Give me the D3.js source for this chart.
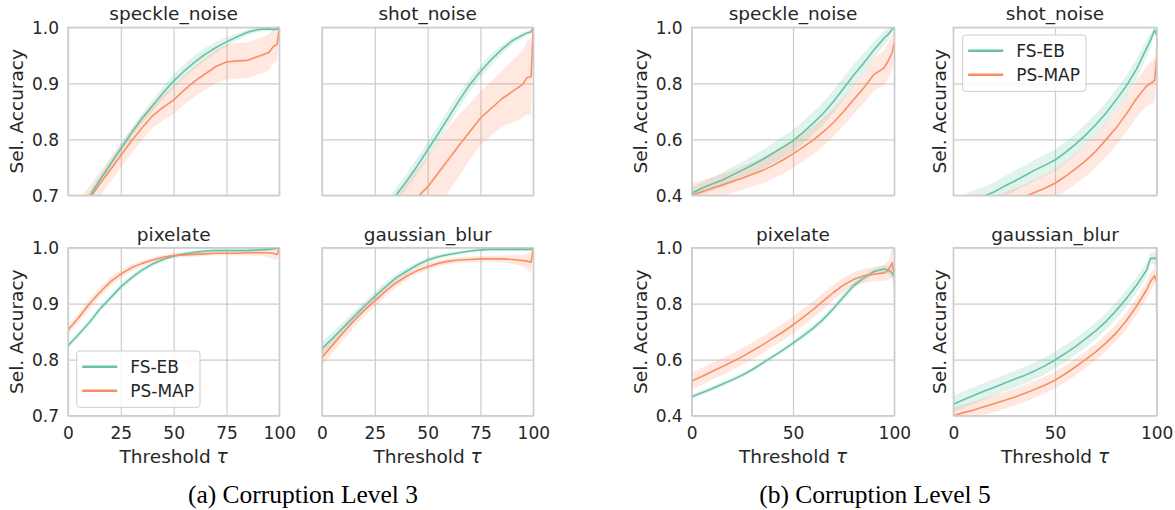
<!DOCTYPE html>
<html><head><meta charset="utf-8">
<script src="https://cdn.jsdelivr.net/npm/d3@7"></script>
<style>
html,body{margin:0;padding:0;background:#fff;}
svg{display:block;font-family:"DejaVu Sans",sans-serif;}
</style></head>
<body>
<svg id="chart" width="1175" height="510"></svg>
<script>
// ---------- data ----------
const thresholds = [0,5,10,15,20,25,30,35,40,45,50,55,60,65,70,75,80,85,90,95,97,99,100];
const seriesNames = ["FS-EB","PS-MAP"];
const seriesColors = ["#66c2a5","#fc8d62"];
const ticksL3x = [0,25,50,75,100];
const ticksL5x = [0,50,100];
const ticksL3y = [0.7,0.8,0.9,1.0];
const ticksL5y = [0.4,0.6,0.8,1.0];
const captions = ["(a) Corruption Level 3","(b) Corruption Level 5"];

// Corruption level 3
const l3SpeckleFs   = [0.655,0.675,0.697,0.727,0.755,0.783,0.811,0.837,0.860,0.883,0.904,0.922,0.938,0.952,0.964,0.974,0.983,0.991,0.996,0.997,0.996,0.997,0.998];
const l3SpeckleFsHw = [0.008,0.008,0.008,0.008,0.008,0.008,0.008,0.009,0.010,0.011,0.012,0.012,0.012,0.011,0.010,0.008,0.006,0.005,0.004,0.003,0.003,0.003,0.003];
const l3SpecklePs   = [0.652,0.672,0.693,0.720,0.745,0.771,0.797,0.820,0.842,0.857,0.870,0.888,0.904,0.917,0.930,0.938,0.940,0.941,0.948,0.955,0.965,0.970,1.000];
const l3SpecklePsHw = [0.022,0.022,0.022,0.022,0.022,0.022,0.022,0.022,0.022,0.023,0.025,0.026,0.027,0.028,0.030,0.031,0.032,0.032,0.032,0.032,0.030,0.028,0.010];

const l3ShotFs   = [0.530,0.550,0.575,0.600,0.625,0.650,0.675,0.700,0.725,0.752,0.781,0.810,0.840,0.870,0.898,0.921,0.942,0.960,0.976,0.986,0.990,0.992,1.000];
const l3ShotFsHw = [0.012,0.012,0.012,0.012,0.012,0.012,0.012,0.013,0.013,0.014,0.014,0.014,0.014,0.013,0.012,0.011,0.010,0.008,0.006,0.005,0.004,0.004,0.004];
const l3ShotPs   = [0.500,0.520,0.540,0.560,0.580,0.605,0.630,0.655,0.676,0.696,0.715,0.740,0.765,0.790,0.814,0.838,0.855,0.872,0.885,0.898,0.910,0.912,1.000];
const l3ShotPsHw = [0.040,0.040,0.040,0.040,0.040,0.040,0.040,0.042,0.045,0.050,0.055,0.058,0.058,0.055,0.050,0.048,0.048,0.050,0.055,0.060,0.065,0.070,0.020];

const l3PixFs   = [0.825,0.845,0.866,0.890,0.910,0.930,0.946,0.960,0.971,0.979,0.985,0.989,0.992,0.994,0.995,0.995,0.995,0.995,0.996,0.997,0.998,0.999,0.999];
const l3PixFsHw = [0.005,0.005,0.005,0.005,0.005,0.005,0.005,0.005,0.004,0.004,0.003,0.003,0.003,0.003,0.003,0.003,0.003,0.003,0.003,0.003,0.003,0.003,0.003];
const l3PixPs   = [0.853,0.875,0.899,0.920,0.939,0.953,0.964,0.972,0.978,0.983,0.986,0.987,0.988,0.989,0.990,0.990,0.990,0.991,0.991,0.991,0.990,0.988,1.000];
const l3PixPsHw = [0.008,0.008,0.008,0.008,0.008,0.007,0.006,0.005,0.004,0.004,0.004,0.004,0.004,0.004,0.004,0.004,0.004,0.005,0.006,0.008,0.010,0.010,0.005];

const l3BlurFs   = [0.820,0.838,0.857,0.876,0.895,0.913,0.930,0.946,0.958,0.969,0.978,0.984,0.988,0.991,0.994,0.996,0.997,0.997,0.997,0.997,0.997,0.997,1.000];
const l3BlurFsHw = [0.012,0.011,0.010,0.010,0.009,0.009,0.008,0.007,0.006,0.005,0.005,0.004,0.004,0.003,0.003,0.003,0.003,0.003,0.003,0.003,0.003,0.003,0.003];
const l3BlurPs   = [0.804,0.826,0.848,0.869,0.888,0.905,0.922,0.937,0.949,0.959,0.966,0.972,0.976,0.978,0.979,0.980,0.980,0.980,0.979,0.977,0.976,0.974,1.000];
const l3BlurPsHw = [0.015,0.014,0.013,0.012,0.011,0.010,0.009,0.008,0.007,0.006,0.006,0.005,0.005,0.005,0.005,0.005,0.005,0.006,0.008,0.010,0.014,0.020,0.005];

// Corruption level 5
const l5SpeckleFs   = [0.407,0.425,0.440,0.454,0.472,0.490,0.508,0.528,0.550,0.572,0.595,0.625,0.658,0.693,0.735,0.782,0.830,0.873,0.920,0.962,0.975,0.993,1.000];
const l5SpeckleFsHw = [0.020,0.022,0.024,0.026,0.028,0.030,0.032,0.034,0.036,0.038,0.040,0.040,0.040,0.040,0.040,0.040,0.038,0.035,0.030,0.025,0.020,0.010,0.005];
const l5SpecklePs   = [0.400,0.413,0.425,0.437,0.449,0.461,0.475,0.489,0.506,0.526,0.548,0.572,0.597,0.627,0.660,0.699,0.742,0.784,0.832,0.855,0.880,0.910,0.949];
const l5SpecklePsHw = [0.040,0.040,0.040,0.040,0.040,0.042,0.044,0.046,0.048,0.050,0.050,0.050,0.050,0.050,0.050,0.050,0.052,0.055,0.058,0.062,0.065,0.065,0.060];

const l5ShotFs   = [0.355,0.370,0.385,0.397,0.412,0.432,0.450,0.470,0.490,0.507,0.526,0.552,0.582,0.615,0.652,0.693,0.740,0.790,0.850,0.925,0.955,0.990,0.970];
const l5ShotFsHw = [0.030,0.031,0.032,0.033,0.034,0.035,0.036,0.036,0.037,0.037,0.038,0.038,0.038,0.038,0.038,0.038,0.038,0.038,0.036,0.030,0.025,0.012,0.010];
const l5ShotPs   = [0.310,0.322,0.334,0.346,0.358,0.370,0.382,0.395,0.410,0.425,0.443,0.467,0.494,0.523,0.557,0.598,0.640,0.690,0.745,0.790,0.800,0.810,0.895];
const l5ShotPsHw = [0.040,0.040,0.040,0.040,0.040,0.041,0.042,0.044,0.046,0.048,0.050,0.052,0.054,0.056,0.058,0.060,0.062,0.064,0.066,0.070,0.075,0.080,0.060];

const l5PixFs   = [0.468,0.482,0.496,0.512,0.528,0.545,0.565,0.588,0.611,0.634,0.659,0.685,0.713,0.745,0.783,0.825,0.865,0.892,0.915,0.924,0.920,0.910,0.895];
const l5PixFsHw = [0.008,0.008,0.008,0.008,0.008,0.008,0.008,0.008,0.008,0.008,0.009,0.010,0.010,0.011,0.012,0.012,0.012,0.012,0.012,0.014,0.016,0.020,0.030];
const l5PixPs   = [0.524,0.540,0.558,0.575,0.593,0.611,0.632,0.653,0.676,0.699,0.724,0.751,0.780,0.810,0.840,0.867,0.887,0.900,0.905,0.910,0.920,0.946,0.900];
const l5PixPsHw = [0.030,0.030,0.030,0.030,0.030,0.030,0.030,0.030,0.030,0.030,0.030,0.030,0.030,0.029,0.028,0.026,0.025,0.025,0.025,0.028,0.035,0.050,0.100];

const l5BlurFs   = [0.441,0.457,0.472,0.487,0.501,0.516,0.530,0.544,0.560,0.578,0.599,0.622,0.647,0.674,0.703,0.736,0.775,0.818,0.865,0.920,0.962,0.962,0.962];
const l5BlurFsHw = [0.030,0.030,0.030,0.030,0.030,0.030,0.030,0.030,0.030,0.030,0.030,0.030,0.030,0.030,0.030,0.030,0.030,0.030,0.028,0.025,0.020,0.020,0.030];
const l5BlurPs   = [0.400,0.411,0.420,0.432,0.443,0.454,0.466,0.479,0.494,0.509,0.527,0.549,0.574,0.600,0.628,0.659,0.695,0.738,0.790,0.849,0.880,0.900,0.877];
const l5BlurPsHw = [0.030,0.030,0.030,0.030,0.030,0.030,0.030,0.030,0.030,0.030,0.030,0.030,0.030,0.030,0.030,0.030,0.030,0.030,0.030,0.030,0.030,0.030,0.250];

// ---------- layout ----------
const svg = d3.select("#chart");
const TXT = "#262626", GRID = "#cccccc";
const rowsY = [[27.3,195.3],[247.7,415.7]];

const panels = [
  {title:"speckle_noise", x0:68,    x1:279.3,  row:0, xt:ticksL3x, yt:ticksL3y, ydom:[0.7,1.0], yTickLabels:true,  ylabel:true,  xTickLabels:false, fs:l3SpeckleFs, fsHw:l3SpeckleFsHw, ps:l3SpecklePs, psHw:l3SpecklePsHw},
  {title:"shot_noise",    x0:322,   x1:533.3,  row:0, xt:ticksL3x, yt:ticksL3y, ydom:[0.7,1.0], yTickLabels:false, ylabel:false, xTickLabels:false, fs:l3ShotFs, fsHw:l3ShotFsHw, ps:l3ShotPs, psHw:l3ShotPsHw},
  {title:"pixelate",      x0:68,    x1:279.3,  row:1, xt:ticksL3x, yt:ticksL3y, ydom:[0.7,1.0], yTickLabels:true,  ylabel:true,  xTickLabels:true, fs:l3PixFs, fsHw:l3PixFsHw, ps:l3PixPs, psHw:l3PixPsHw, legend:"lowerleft"},
  {title:"gaussian_blur", x0:322,   x1:533.3,  row:1, xt:ticksL3x, yt:ticksL3y, ydom:[0.7,1.0], yTickLabels:false, ylabel:false, xTickLabels:true, fs:l3BlurFs, fsHw:l3BlurFsHw, ps:l3BlurPs, psHw:l3BlurPsHw},
  {title:"speckle_noise", x0:691.7, x1:894.3,  row:0, xt:ticksL5x, yt:ticksL5y, ydom:[0.4,1.0], yTickLabels:true,  ylabel:true,  xTickLabels:false, fs:l5SpeckleFs, fsHw:l5SpeckleFsHw, ps:l5SpecklePs, psHw:l5SpecklePsHw},
  {title:"shot_noise",    x0:953.3, x1:1156.7, row:0, xt:ticksL5x, yt:ticksL5y, ydom:[0.4,1.0], yTickLabels:false, ylabel:true,  xTickLabels:false, fs:l5ShotFs, fsHw:l5ShotFsHw, ps:l5ShotPs, psHw:l5ShotPsHw, legend:"upperleft"},
  {title:"pixelate",      x0:691.7, x1:894.3,  row:1, xt:ticksL5x, yt:ticksL5y, ydom:[0.4,1.0], yTickLabels:true,  ylabel:true,  xTickLabels:true, fs:l5PixFs, fsHw:l5PixFsHw, ps:l5PixPs, psHw:l5PixPsHw},
  {title:"gaussian_blur", x0:953.3, x1:1156.7, row:1, xt:ticksL5x, yt:ticksL5y, ydom:[0.4,1.0], yTickLabels:false, ylabel:true,  xTickLabels:true, fs:l5BlurFs, fsHw:l5BlurFsHw, ps:l5BlurPs, psHw:l5BlurPsHw}
];

const defs = svg.append("defs");

panels.forEach((p, i) => {
  const [yTop, yBot] = rowsY[p.row];
  const x = d3.scaleLinear().domain([0,100]).range([p.x0, p.x1]);
  const y = d3.scaleLinear().domain(p.ydom).range([yBot, yTop]);
  const g = svg.append("g");

  defs.append("clipPath").attr("id","clip"+i)
    .append("rect").attr("x",p.x0).attr("y",yTop).attr("width",p.x1-p.x0).attr("height",yBot-yTop);

  // grid
  const gx = g.append("g").attr("transform",`translate(0,${yBot})`)
    .call(d3.axisBottom(x).tickValues(p.xt).tickSize(-(yBot-yTop)).tickFormat(p.xTickLabels ? d3.format("d") : ""));
  gx.select(".domain").remove();
  gx.selectAll(".tick line").attr("stroke",GRID).attr("stroke-width",1.2);
  gx.selectAll(".tick text").attr("fill",TXT).style("font-size","17px").attr("dy","0").attr("y",23)
    .style("font-family","DejaVu Sans");

  const gy = g.append("g").attr("transform",`translate(${p.x0},0)`)
    .call(d3.axisLeft(y).tickValues(p.yt).tickSize(-(p.x1-p.x0)).tickFormat(p.yTickLabels ? d3.format(".1f") : ""));
  gy.select(".domain").remove();
  gy.selectAll(".tick line").attr("stroke",GRID).attr("stroke-width",1.2);
  gy.selectAll(".tick text").attr("fill",TXT).style("font-size","17px").attr("x",-9).attr("dy","0.36em")
    .style("font-family","DejaVu Sans");

  // bands and lines
  const plot = g.append("g").attr("clip-path",`url(#clip${i})`);
  const series = [{m:p.fs, hw:p.fsHw},{m:p.ps, hw:p.psHw}];
  series.forEach((s, k) => {
    const pts = thresholds.map((t, j) => ({t, m:s.m[j], lo:s.m[j]-s.hw[j], hi:s.m[j]+s.hw[j]}));
    plot.append("path").datum(pts)
      .attr("d", d3.area().x(d=>x(d.t)).y0(d=>y(d.lo)).y1(d=>y(d.hi)))
      .attr("fill", seriesColors[k]).attr("fill-opacity",0.2).attr("stroke","none");
  });
  series.forEach((s, k) => {
    const pts = thresholds.map((t, j) => ({t, m:s.m[j]}));
    plot.append("path").datum(pts)
      .attr("d", d3.line().x(d=>x(d.t)).y(d=>y(d.m)))
      .attr("fill","none").attr("stroke", seriesColors[k]).attr("stroke-width",1.6)
      .attr("stroke-linejoin","round");
  });

  // frame
  g.append("rect").attr("x",p.x0).attr("y",yTop).attr("width",p.x1-p.x0).attr("height",yBot-yTop)
    .attr("fill","none").attr("stroke",GRID).attr("stroke-width",1.3);

  // title
  g.append("text").attr("x",(p.x0+p.x1)/2).attr("y",yTop-7).attr("text-anchor","middle")
    .attr("fill",TXT).style("font-size","18.5px").text(p.title);

  // y label
  if (p.ylabel) {
    const lx = p.yTickLabels ? p.x0-51 : p.x0-14;
    g.append("text").attr("transform",`translate(${lx},${(yTop+yBot)/2}) rotate(-90)`)
      .attr("text-anchor","middle").attr("dy","0.35em").attr("fill",TXT).style("font-size","18.5px")
      .text("Sel. Accuracy");
  }
  // x label
  if (p.xTickLabels) {
    const t = g.append("text").attr("x",(p.x0+p.x1)/2).attr("y",yBot+47).attr("text-anchor","middle")
      .attr("fill",TXT).style("font-size","18.5px");
    t.append("tspan").text("Threshold ");
    t.append("tspan").style("font-style","italic").text("τ");
  }

  // legend
  if (p.legend) {
    const lx = p.legend === "lowerleft" ? p.x0+8.7 : p.x0+9.4;
    const ly = p.legend === "lowerleft" ? yBot-64.7 : yTop+7.7;
    const lg = g.append("g").attr("transform",`translate(${lx},${ly})`);
    lg.append("rect").attr("width",123.3).attr("height",56.3).attr("rx",3)
      .attr("fill","#fff").attr("fill-opacity",0.85).attr("stroke",GRID).attr("stroke-width",1);
    seriesNames.forEach((n, k) => {
      lg.append("line").attr("x1",5.5).attr("x2",40.5).attr("y1",15.7+k*24).attr("y2",15.7+k*24)
        .attr("stroke",seriesColors[k]).attr("stroke-width",2.6);
      lg.append("text").attr("x",53.5).attr("y",15.7+k*24).attr("dy","0.36em")
        .attr("fill",TXT).style("font-size","17px").text(n);
    });
  }
});

// captions
[[303,captions[0]],[875,captions[1]]].forEach(([cx, txt]) => {
  svg.append("text").attr("x",cx).attr("y",503).attr("text-anchor","middle")
    .style("font-family","'Liberation Serif','Times New Roman',serif").style("font-size","25.5px")
    .attr("fill","#000").text(txt);
});
</script>
</body></html>
